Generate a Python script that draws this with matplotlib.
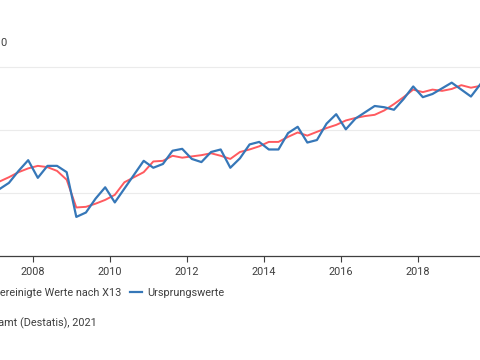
import numpy as np
import pandas as pd
import matplotlib
matplotlib.use("Agg")
import matplotlib.pyplot as plt

plt.rcParams['font.family'] = ['Roboto', 'DejaVu Sans']

# quarterly index values, 2007Q1 .. 2019Q3
quarters = pd.period_range("2007Q1", "2019Q3", freq="Q")
original = [90.6, 91.6, 93.5, 95.2,
            92.4, 94.3, 94.3, 93.3,
            86.2, 86.9, 89.1, 90.9,
            88.5, 90.7, 92.9, 95.1,
            94.0, 94.6, 96.7, 97.0,
            95.4, 94.9, 96.5, 96.9,
            94.0, 95.5, 97.7, 98.1,
            96.9, 96.9, 99.5, 100.5,
            98.0, 98.4, 101.0, 102.5,
            100.1, 101.8, 102.8, 103.8,
            103.6, 103.2, 104.9, 106.9,
            105.2, 105.7, 106.6, 107.5,
            106.4, 105.3, 107.3]
adjusted = [91.8, 92.5, 93.3, 93.9,
            94.3, 94.1, 93.5, 92.1,
            87.7, 87.8, 88.3, 88.9,
            89.7, 91.7, 92.5, 93.3,
            95.0, 95.1, 95.9, 95.6,
            95.8, 96.0, 96.3, 95.9,
            95.4, 96.5, 96.9, 97.4,
            98.1, 98.1, 98.9, 99.6,
            99.1, 99.7, 100.3, 100.8,
            101.5, 101.9, 102.2, 102.4,
            103.1, 104.1, 105.2, 106.4,
            106.0, 106.4, 106.2, 106.5,
            107.1, 106.7, 107.0]
year_ticks = [2008, 2010, 2012, 2014, 2016, 2018]
grid_values = [90, 100, 110]

x = quarters.year + (quarters.quarter - 0.5) / 4

fig = plt.figure(figsize=(4.8, 3.6), dpi=100)
ax = fig.add_axes([0, 1 - 256 / 360, 1, 208 / 360])

grey = "#3f3f3f"
ax.plot(x, adjusted, color="#ff5a5f", lw=1.4, label="Saison- und kalenderbereinigte Werte nach X13")
ax.plot(x, original, color="#3677b8", lw=1.6, label="Ursprungswerte")

ax.set_xlim(2007.143, 2019.61)
ax.set_ylim(80, 113)
for v in grid_values:
    ax.axhline(v, color="#ebebeb", lw=0.8, zorder=0)

for s in ["top", "right", "left"]:
    ax.spines[s].set_visible(False)
ax.spines["bottom"].set_color(grey)
ax.spines["bottom"].set_linewidth(0.9)
ax.set_yticks([])
ax.set_xticks(year_ticks)
ax.set_xticklabels([str(y) for y in year_ticks])
ax.tick_params(axis="x", length=4, width=0.8, color=grey, labelcolor=grey,
               labelsize=7.8, pad=4)

fig.text(0.0, 1 - 43 / 360, "0", ha="left", va="center", fontsize=8, color=grey)

ax.legend(loc="center right", bbox_to_anchor=(224 / 480, 1 - 293 / 360),
          bbox_transform=fig.transFigure, ncol=2, frameon=False,
          fontsize=7.8, labelcolor=grey, borderpad=0, borderaxespad=0,
          handlelength=1.1, handletextpad=0.45, columnspacing=0.8)

fig.text(97 / 480, 1 - 323 / 360, "Quelle: Statistisches Bundesamt (Destatis), 2021",
         ha="right", va="center", fontsize=7.8, color=grey)

fig.savefig("out.png", dpi=100)
